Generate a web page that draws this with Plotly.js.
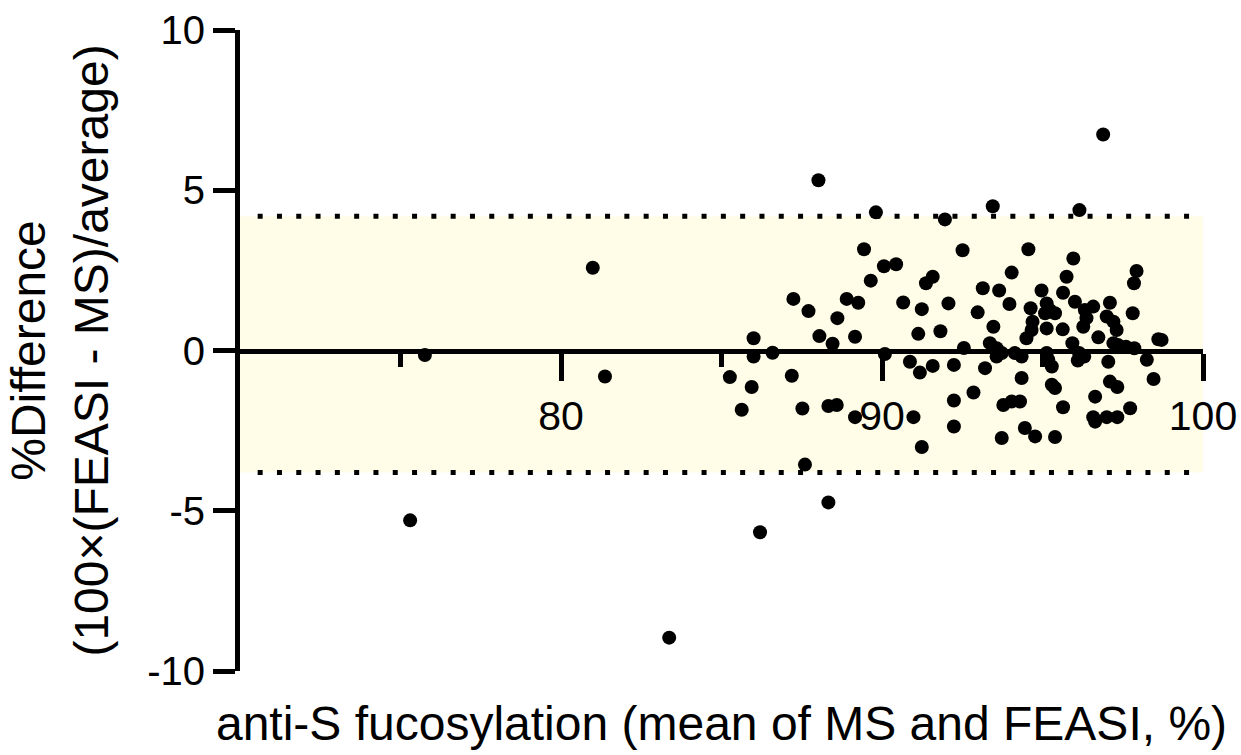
<!DOCTYPE html>
<html>
<head>
<meta charset="utf-8">
<script src="https://cdn.plot.ly/plotly-3.0.1.min.js"></script>
<style>html,body{margin:0;padding:0;background:#fff;}#chart{width:1241px;height:755px;}</style>
</head>
<body>
<div id="chart"></div>
<script>
// Mean of MS and FEASI (%)
const meanVals = [
  75.30, 75.76, 80.99, 81.37, 83.37, 85.26, 85.63, 85.94, 86.00, 86.00,
  86.59, 86.20, 87.24, 87.19, 87.52, 87.60, 87.71, 88.02, 88.05, 88.46,
  88.33, 88.59, 88.33, 88.61, 88.90, 89.26, 89.16, 89.16, 89.44, 89.65,
  89.81, 90.06, 90.44, 90.09, 90.66, 90.87, 90.98, 91.13, 91.18, 91.24,
  91.24, 91.37, 91.58, 91.58, 91.82, 91.96, 92.07, 92.24, 92.24, 92.24,
  92.51, 92.55, 92.85, 92.98, 93.14, 93.21, 93.36, 93.45, 93.47, 93.57,
  93.57, 93.65, 93.73, 93.73, 93.78, 93.97, 94.04, 94.04, 94.14, 94.30,
  94.35, 94.35, 94.45, 94.50, 94.56, 94.63, 94.66, 94.69, 94.77, 94.97,
  95.08, 95.13, 95.13, 95.13, 95.18, 95.29, 95.23, 95.39, 95.29, 95.39,
  95.39, 95.63, 95.64, 95.64, 95.75, 95.93, 96.14, 96.30, 96.10, 95.96,
  96.01, 96.15, 96.27, 96.32, 96.37, 96.58, 96.58, 96.64, 96.64, 96.74,
  96.89, 97.00, 97.00, 97.05, 97.10, 97.10, 97.21, 97.31, 97.33, 97.33,
  97.35, 97.60, 97.86, 97.73, 97.81, 97.85, 97.93, 98.25, 98.46, 98.61,
  98.71, 97.21
];
// %Difference 100*(FEASI - MS)/average
const pctDiff = [
  -5.30, -0.14, 2.58, -0.81, -8.96, -0.83, -1.85, -1.14, 0.38, -0.19,
  -0.07, -5.67, 1.61, -0.79, -1.81, -3.56, 1.23, 5.31, 0.45, 0.21,
  -1.73, -1.70, -4.74, 1.01, 1.61, 1.49, 0.43, -2.08, 3.16, 2.18,
  4.31, 2.63, 2.69, -0.11, 1.50, -0.35, -2.08, 0.52, -0.69, 1.29,
  -3.01, 2.10, 2.30, -0.48, 0.60, 4.09, 1.47, -0.45, -1.56, -2.37,
  3.13, 0.08, -1.31, 1.19, 1.94, -0.55, 0.23, 4.50, 0.74, 0.07,
  -0.19, 1.87, -0.08, -2.73, -1.70, 1.45, 2.43, -1.59, -0.08, -1.59,
  -0.19, -0.86, -2.42, 0.38, 3.16, 1.32, 0.64, 0.90, -2.68, 1.87,
  1.16, 1.47, 0.69, -0.08, -0.29, -0.50, 1.26, 1.16, -1.07, -1.17,
  -2.70, 0.66, 1.80, -1.77, 2.30, 0.23, -0.08, -0.19, -0.31, 2.87,
  1.52, 4.38, 0.74, 1.26, 1.01, 1.37, -2.08, -2.22, -1.44, 0.41,
  6.74, 1.06, -2.08, -0.35, 1.49, -0.97, 0.90, 0.64, -1.14, -2.08,
  0.17, 0.12, 0.07, -1.80, 1.16, 2.10, 2.48, -0.29, -0.89, 0.35,
  0.33, 0.23
];
// 95% limits of agreement
const loaUpper = 4.19;
const loaLower = -3.81;
// axis ranges and ticks
const xRange = [70, 100];
const yRange = [-10, 10];
const xTicks = [80, 90, 100];
const xMinorTicks = [75, 85, 95];
const yTicks = [-10, -5, 0, 5, 10];

const FONT = 'Liberation Sans, Arial, Helvetica, sans-serif';

const traces = [{
  type: 'scatter',
  mode: 'markers',
  x: meanVals,
  y: pctDiff,
  marker: {color: '#000', size: 14, line: {width: 0}},
  hoverinfo: 'x+y',
  showlegend: false,
  cliponaxis: false
}];

const dotDash = '5px,14.3px';
const layout = {
  width: 1241,
  height: 755,
  margin: {l: 240, r: 38, t: 30, b: 84},
  paper_bgcolor: '#fff',
  plot_bgcolor: 'rgba(0,0,0,0)',
  font: {family: FONT, color: '#000'},
  showlegend: false,
  xaxis: {
    range: xRange,
    anchor: 'free',
    position: 0.5,
    showline: true,
    linecolor: '#000',
    linewidth: 5,
    showgrid: false,
    zeroline: false,
    ticks: 'outside',
    tickmode: 'array',
    tickvals: xTicks,
    ticktext: xTicks.map(String),
    ticklen: 27,
    tickwidth: 5,
    tickcolor: '#000',
    tickfont: {family: FONT, size: 41, color: '#000'},
    minor: {tickmode: 'array', tickvals: xMinorTicks, ticks: 'outside', ticklen: 13, tickwidth: 5, tickcolor: '#000', showgrid: false},
    title: {text: 'anti-S fucosylation (mean of MS and FEASI, %)', font: {family: FONT, size: 48, color: '#000'}, standoff: 268},
    automargin: false
  },
  yaxis: {
    range: yRange,
    showline: true,
    linecolor: '#000',
    linewidth: 5,
    showgrid: false,
    zeroline: false,
    ticks: 'outside',
    tickmode: 'array',
    tickvals: yTicks,
    ticktext: yTicks.map(String),
    ticklen: 22,
    tickwidth: 5,
    tickcolor: '#000',
    tickfont: {family: FONT, size: 40, color: '#000'},
    title: {text: '%Difference<br>(100×(FEASI - MS)/average)', font: {family: FONT, size: 48, color: '#000'}, standoff: 25},
    automargin: false
  },
  shapes: [
    {type: 'rect', xref: 'x', yref: 'y', x0: xRange[0], x1: xRange[1], y0: loaLower, y1: loaUpper,
     fillcolor: 'rgb(255,253,231)', line: {width: 0}, layer: 'below'},
    {type: 'line', xref: 'x', yref: 'y', x0: xRange[0] + 0.55, x1: xRange[1], y0: loaUpper, y1: loaUpper,
     line: {color: '#000', width: 5, dash: dotDash}, layer: 'below'},
    {type: 'line', xref: 'x', yref: 'y', x0: xRange[0] + 0.55, x1: xRange[1], y0: loaLower, y1: loaLower,
     line: {color: '#000', width: 5, dash: dotDash}, layer: 'below'}
  ]
};

Plotly.newPlot('chart', traces, layout, {displayModeBar: false, staticPlot: true});
</script>
</body>
</html>
